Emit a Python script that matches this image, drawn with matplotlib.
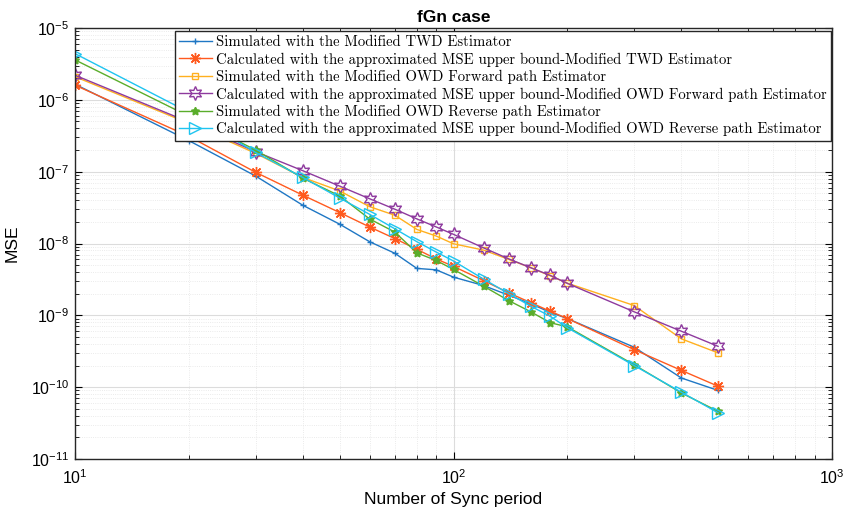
import matplotlib.pyplot as plt
import matplotlib.ticker as mticker
import numpy as np

plt.rcParams['mathtext.fontset'] = 'custom'
plt.rcParams['mathtext.rm'] = 'Liberation Sans'
plt.rcParams['mathtext.it'] = 'Liberation Sans:italic'
plt.rcParams['mathtext.bf'] = 'Liberation Sans:bold'
plt.rcParams['font.family'] = 'Liberation Sans'

sync_period = [10, 20, 30, 40, 50, 60, 70, 80, 90, 100, 120, 140, 160, 180, 200, 300, 400, 500]

sim_twd = [1.65e-6, 2.7e-7, 8.7e-8, 3.4e-8, 1.86e-8, 1.06e-8, 7.3e-9, 4.5e-9, 4.3e-9, 3.4e-9,
           2.6e-9, 1.9e-9, 1.45e-9, 1.1e-9, 9.0e-10, 3.6e-10, 1.34e-10, 9.0e-11]
calc_twd = [1.6e-6, 3.1e-7, 9.8e-8, 4.7e-8, 2.7e-8, 1.7e-8, 1.17e-8, 8.3e-9, 6.1e-9, 4.8e-9,
            3.05e-9, 2.05e-9, 1.5e-9, 1.14e-9, 9.0e-10, 3.33e-10, 1.71e-10, 1.03e-10]
sim_fwd = [2.1e-6, 4.7e-7, 1.8e-7, 8.3e-8, 5.4e-8, 3.26e-8, 2.47e-8, 1.57e-8, 1.27e-8, 9.9e-9,
           8.1e-9, 6.0e-9, 4.6e-9, 3.55e-9, 2.8e-9, 1.37e-9, 4.7e-10, 3.0e-10]
calc_fwd = [2.2e-6, 4.9e-7, 1.9e-7, 1.03e-7, 6.3e-8, 4.2e-8, 3.0e-8, 2.2e-8, 1.7e-8, 1.34e-8,
            8.7e-9, 6.1e-9, 4.6e-9, 3.6e-9, 2.78e-9, 1.12e-9, 6.0e-10, 3.7e-10]
sim_rev = [3.6e-6, 5.9e-7, 2.0e-7, 8.1e-8, 4.6e-8, 2.2e-8, 1.44e-8, 7.4e-9, 5.8e-9, 4.35e-9,
           2.55e-9, 1.6e-9, 1.12e-9, 7.9e-10, 6.9e-10, 2.05e-10, 8.3e-11, 4.6e-11]
calc_rev = [4.4e-6, 6.7e-7, 1.85e-7, 8.3e-8, 4.3e-8, 2.55e-8, 1.6e-8, 1.06e-8, 7.6e-9, 5.7e-9,
            3.2e-9, 2.0e-9, 1.34e-9, 9.7e-10, 6.7e-10, 2.0e-10, 8.5e-11, 4.4e-11]

labels = [
    'Simulated with the Modified TWD Estimator',
    'Calculated with the approximated MSE upper bound-Modified TWD Estimator',
    'Simulated with the Modified OWD Forward path Estimator',
    'Calculated with the approximated MSE upper bound-Modified OWD Forward path Estimator',
    'Simulated with the Modified OWD Reverse path Estimator',
    'Calculated with the approximated MSE upper bound-Modified OWD Reverse path Estimator',
]

fig = plt.figure(figsize=(8.46, 5.16), dpi=100)
ax = fig.add_axes([0.0887, 0.1105, 0.8948, 0.8352])

ax.plot(sync_period, sim_twd, color='#1f77c4', lw=1, marker='+', ms=5, mew=1, label=labels[0])
ax.plot(sync_period, calc_twd, color='#ff5a1f', lw=1, marker=(8, 2, 0), ms=8, mew=1, label=labels[1])
ax.plot(sync_period, sim_fwd, color='#ffb01f', lw=1, marker='s', ms=4.5, mew=1, mfc='none', label=labels[2])
ax.plot(sync_period, calc_fwd, color='#8e3a9e', lw=1, marker=(6, 1, 0), ms=10, mew=1, mfc='none', label=labels[3])
ax.plot(sync_period, sim_rev, color='#5aad2b', lw=1, marker=(5, 1, 0), ms=6, mew=1, label=labels[4])
ax.plot(sync_period, calc_rev, color='#1ec4f0', lw=1, marker='>', ms=9, mew=1, mfc='none', label=labels[5])

ax.set_xscale('log')
ax.set_yscale('log')
ax.set_xlim(10, 1000)
ax.set_ylim(1e-11, 1e-5)
ax.xaxis.set_minor_formatter(mticker.NullFormatter())
ax.yaxis.set_minor_formatter(mticker.NullFormatter())

ax.grid(True, which='major', color='#dcdcdc', lw=0.8)
ax.grid(True, which='minor', color='#e4e4e4', lw=0.6, linestyle=':')
ax.tick_params(which='both', direction='in', top=True, right=True, labelsize=11.5)
ax.tick_params(which='major', length=5)
ax.tick_params(which='minor', length=3)
ax.tick_params(axis='x', pad=7)
ax.tick_params(axis='y', pad=4)
for s in ax.spines.values():
    s.set_linewidth(1)
    s.set_color('#262626')

ax.set_xlabel('Number of Sync period', fontsize=12.5, labelpad=3)
ax.set_ylabel('MSE', fontsize=12.5, labelpad=8)
ax.set_title('fGn case', fontsize=12.5, fontweight='bold', pad=4)

leg = ax.legend(loc='upper right', bbox_to_anchor=(0.9989, 0.993),
                prop={'family': 'cmr10', 'size': 10.6},
                fancybox=False, edgecolor='#262626', framealpha=1,
                handlelength=2.2, handletextpad=0.3, labelspacing=0.22,
                borderpad=0.3, borderaxespad=0)
leg.get_frame().set_linewidth(1)

fig.savefig('out.png', dpi=100)
